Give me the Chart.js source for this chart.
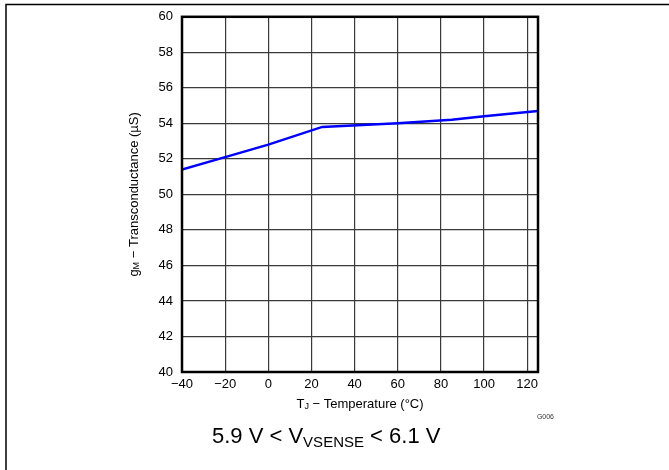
<!DOCTYPE html>
<html>
<head>
<meta charset="utf-8">
<script src="https://cdn.jsdelivr.net/npm/chart.js@4.4.1/dist/chart.umd.min.js"></script>
<style>
  html, body { margin: 0; padding: 0; background: #fff; }
  #wrap { width: 669px; height: 470px; }
</style>
</head>
<body>
<div id="wrap"><canvas id="gm" width="669" height="470"></canvas></div>
<script>
// gM vs junction temperature
const tempC = [-40, -20, 0, 25, 60, 85, 100, 125];
const gmUS  = [51.4, 52.1, 52.8, 53.8, 54.0, 54.2, 54.4, 54.7];

const xTicks = [-40, -20, 0, 20, 40, 60, 80, 100, 120];
const yTicks = [40, 42, 44, 46, 48, 50, 52, 54, 56, 58, 60];

const FONT = '"Liberation Sans", Arial, sans-serif';

// draws a string made of [text, isSub] parts, starting at x
function drawParts(ctx, parts, x, y, size, subSize){
  parts.forEach(([txt, sub]) => {
    ctx.font = `${sub ? subSize : size}px ${FONT}`;
    ctx.fillText(txt, x, sub ? y + size * 0.22 : y);
    x += ctx.measureText(txt).width;
  });
}
function partsWidth(ctx, parts, size, subSize){
  let w = 0;
  parts.forEach(([txt, sub]) => {
    ctx.font = `${sub ? subSize : size}px ${FONT}`;
    w += ctx.measureText(txt).width;
  });
  return w;
}

const decor = {
  id: 'decor',
  afterDraw(chart){
    const ctx = chart.ctx;
    const a = chart.chartArea;
    ctx.save();
    // plot frame
    ctx.strokeStyle = '#000';
    ctx.lineWidth = 2.5;
    ctx.strokeRect(a.left, a.top, a.right - a.left, a.bottom - a.top);
    // outer page frame (top and left only visible)
    ctx.lineWidth = 1.5;
    ctx.beginPath();
    ctx.moveTo(669, 4.5); ctx.lineTo(6, 4.5); ctx.lineTo(6, 470);
    ctx.stroke();

    ctx.fillStyle = '#000';
    ctx.textBaseline = 'middle';
    ctx.textAlign = 'left';

    // x title
    const xp = [['T', false], ['J', true], [' \u2212 Temperature (\u00B0C)', false]];
    const xw = partsWidth(ctx, xp, 13, 9);
    drawParts(ctx, xp, (a.left + a.right) / 2 - xw / 2, 404, 13, 9);

    // y title (rotated)
    const yp = [['g', false], ['M', true], [' \u2212 Transconductance (\u00B5S)', false]];
    const yw = partsWidth(ctx, yp, 13, 9);
    ctx.save();
    ctx.translate(134, (a.top + a.bottom) / 2);
    ctx.rotate(-Math.PI / 2);
    drawParts(ctx, yp, -yw / 2, 0, 13, 9);
    ctx.restore();

    // graph id
    ctx.font = `7px ${FONT}`;
    ctx.textAlign = 'right';
    ctx.fillStyle = '#333';
    ctx.fillText('G006', 554, 417);

    // condition caption
    ctx.fillStyle = '#000';
    ctx.textAlign = 'left';
    ctx.textBaseline = 'alphabetic';
    const cp = [['5.9 V < V', false], ['VSENSE', true], [' < 6.1 V', false]];
    let x = 212;
    cp.forEach(([txt, sub]) => {
      ctx.font = `${sub ? 15 : 22}px ${FONT}`;
      ctx.fillText(txt, x, sub ? 447 : 443);
      x += ctx.measureText(txt).width;
    });
    ctx.restore();
  }
};

new Chart(document.getElementById('gm'), {
  type: 'line',
  data: {
    datasets: [{
      data: tempC.map((t, i) => ({ x: t, y: gmUS[i] })),
      borderColor: '#0000ff',
      borderWidth: 2.5,
      pointRadius: 0,
      tension: 0,
      fill: false
    }]
  },
  options: {
    responsive: false,
    animation: false,
    devicePixelRatio: 1,
    layout: { padding: { left: 0, top: 16, right: 131, bottom: 0 } },
    plugins: { legend: { display: false }, tooltip: { enabled: false } },
    scales: {
      x: {
        type: 'linear',
        min: -40, max: 125,
        afterBuildTicks: s => { s.ticks = xTicks.map(v => ({ value: v })); },
        afterFit: s => { s.height = 98; },
        grid: { color: '#3a3a3a', lineWidth: 1.2, drawTicks: false },
        border: { display: false },
        ticks: {
          autoSkip: false, maxRotation: 0, padding: 5,
          color: '#000', font: { family: FONT, size: 13 },
          callback: v => v < 0 ? '\u2212' + Math.abs(v) : String(v)
        }
      },
      y: {
        min: 40, max: 60,
        afterBuildTicks: s => { s.ticks = yTicks.map(v => ({ value: v })); },
        afterFit: s => { s.width = 182; },
        grid: { color: '#3a3a3a', lineWidth: 1.2, drawTicks: false },
        border: { display: false },
        ticks: { padding: 9, color: '#000', font: { family: FONT, size: 13 } }
      }
    }
  },
  plugins: [decor]
});
</script>
</body>
</html>
